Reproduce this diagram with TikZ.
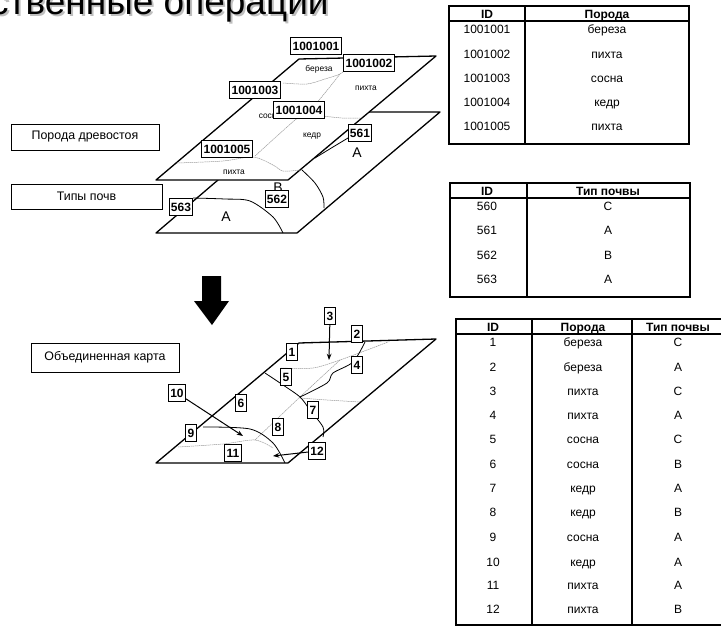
\documentclass[tikz,border=0pt]{standalone}
\usepackage{fontspec}
\setmainfont{Liberation Sans}
\usetikzlibrary{arrows.meta}
\tikzset{
  sheet/.style={draw,fill=white,line width=1.3pt,line join=round},
  soil/.style={line width=.8pt},
  stand/.style={gray!80,line width=.5pt,dash pattern=on 1.5pt off .6pt},
  tag/.style={draw,fill=white,line width=1pt,inner xsep=1.8pt,inner ysep=0pt,minimum height=16.5pt,text height=8.6pt,text depth=0pt,font=\fontsize{12}{12}\bfseries\selectfont},
  legend/.style={draw,fill=white,line width=.8pt,font=\fontsize{12.4}{13}\selectfont},
  small/.style={text height=4.4pt,text depth=0pt,font=\fontsize{8.4}{9}\selectfont},
  soilname/.style={font=\fontsize{14}{14}\selectfont},
  cell/.style={text height=8.6pt,text depth=0pt,font=\fontsize{12}{12}\selectfont},
  head/.style={text height=8.6pt,text depth=0pt,font=\fontsize{12}{12}\bfseries\selectfont},
  rule/.style={line width=1.4pt},
  pointer/.style={->,>={Stealth[length=2.2mm]},line width=1pt}
}
\begin{document}
\begin{tikzpicture}[x=1pt,y=-1pt]
\useasboundingbox (0,0) rectangle (721,627);
% title
\node[anchor=base west,gray!50,inner sep=0pt,font=\fontsize{37}{37}\selectfont] (titleshade) at (-8,16) {ственные операции};
\node[anchor=base west,inner sep=0pt,font=\fontsize{37}{37}\selectfont] (title) at (-10,14) {ственные операции};
% lower sheet
\draw[sheet] (218,180) -- (156,233) -- (297,233) -- (440,112) -- (300,112) -- cycle;
\draw[soil] plot[smooth] coordinates {(193,198) (225,199) (250,201) (273,217) (283,233)};
\draw[soil] plot[smooth] coordinates {(302,170) (315,183) (323,197) (324,208)};
\draw[soil] plot[smooth] coordinates {(315,158) (333,147) (348,138)};
\node[soilname] (soilB) at (278,188) {B};
\node[soilname] (soilA) at (357,153) {A};
\node[soilname] (soilC) at (226,217) {A};
% upper sheet
\draw[sheet] (299,59) -- (436,56) -- (288,180) -- (156,180) -- cycle;
\draw[stand] plot[smooth] coordinates {(283,83) (307,84) (325,79) (340,74) (347,68)};
\draw[stand] plot[smooth] coordinates {(340,74) (313,107) (295,120) (255,156)};
\draw[stand] plot[smooth] coordinates {(323,116) (342,118) (360,118)};
\draw[stand] plot[smooth] coordinates {(177,163) (223,161) (253,157) (273,165) (283,171) (300,170)};
\node[small] (birch) at (319,69) {береза};
\node[small] (fir) at (366,88) {пихта};
\node[small] (pine) at (270,116) {сосна};
\node[small] (cedar) at (312,135) {кедр};
\node[small] (firb) at (234,172) {пихта};
% tags of both sheets
\foreach \xx/\yy/\t in {316/46/1001001,369/63/1001002,255/90/1001003,299/110/1001004,227/149/1001005,360/133/561,277/199/562,181/207/563}
  \node[tag] (p\t) at (\xx,\yy) {\t};
% legends
\node[legend,minimum width=148pt,minimum height=26pt] (lgstand) at (85,137) {Порода древостоя};
\node[legend,minimum width=151pt,minimum height=25pt] (lgsoil) at (86.5,196.5) {Типы почв};
\node[legend,minimum width=148pt,minimum height=29pt] (lgjoin) at (105,357.5) {Объединенная карта};
% big arrow
\fill (202,276) -- (221,276) -- (221,301) -- (229,301) -- (212,325) -- (194,301) -- (202,301) -- cycle;
% joined sheet
\draw[sheet] (299,343) -- (436,339) -- (288,463) -- (156,463) -- cycle;
\draw[stand] plot[smooth] coordinates {(281,368) (313,368) (340,360) (367,350) (388,342)};
\draw[stand] plot[smooth] coordinates {(340,360) (300,397) (255,440)};
\draw[stand] plot[smooth] coordinates {(300,398) (327,400) (360,402)};
\draw[stand] plot[smooth] coordinates {(178,447) (223,444) (255,440) (273,448)};
\draw[soil] plot[smooth] coordinates {(203,427) (250,429) (273,443) (285,463)};
\draw[soil] plot[smooth] coordinates {(265,373) (283,385) (300,397) (310,410) (323,427) (323,437)};
\draw[soil] plot[smooth] coordinates {(365,342) (353,362) (333,373) (327,383) (300,397)};
\foreach \xx/\yy/\t in {292/352/1,357/334/2,330/316/3,357/365/4,286/377/5,241/403/6,313/410/7,278/427/8,191/433/9,177/393/10,233/453/11,317/451/12}
  \node[tag] (n\t) at (\xx,\yy) {\t};
\coordinate (pt3) at (329,360);
\coordinate (pt10) at (243,436);
\coordinate (pt12) at (273,456);
\draw[pointer] (n3) -- (pt3);
\draw[pointer] (n10) -- (pt10);
\draw[pointer] (n12) -- (pt12);
% table of stands
\draw[rule] (449,6) rectangle (689,144) (525,6) -- (525,144) (449,21) -- (689,21);
\node[head] (ah1) at (487,14) {ID};
\node[head] (ah2) at (607,14) {Порода};
\foreach \yy/\a/\b in {29/1001001/береза,54/1001002/пихта,78/1001003/сосна,102/1001004/кедр,126/1001005/пихта}{
  \node[cell] (a\a) at (487,\yy) {\a};
  \node[cell] (ab\a) at (607,\yy) {\b};
}
% table of soils
\draw[rule] (450,183) rectangle (690,297) (527,183) -- (527,297) (450,198) -- (690,198);
\node[head] (bh1) at (487,191) {ID};
\node[head] (bh2) at (608,191) {Тип почвы};
\foreach \yy/\a/\b in {206/560/C,230/561/A,255/562/B,279/563/A}{
  \node[cell] (b\a) at (487,\yy) {\a};
  \node[cell] (bb\a) at (608,\yy) {\b};
}
% joined table
\draw[rule] (721,319) -- (456,319) -- (456,625) -- (721,625) (532,319) -- (532,625) (632,319) -- (632,625) (456,334) -- (721,334);
\node[head] (ch1) at (493,327) {ID};
\node[head] (ch2) at (583,327) {Порода};
\node[head] (ch3) at (678,327) {Тип почвы};
\foreach \yy/\a/\b/\c in {342/1/береза/C,367/2/береза/A,391/3/пихта/C,415/4/пихта/A,439/5/сосна/C,464/6/сосна/B,488/7/кедр/A,512/8/кедр/B,537/9/сосна/A,562/10/кедр/A,585/11/пихта/A,609/12/пихта/B}{
  \node[cell] (c\a) at (493,\yy) {\a};
  \node[cell] (cb\a) at (583,\yy) {\b};
  \node[cell] (cc\a) at (678,\yy) {\c};
}
\end{tikzpicture}
\end{document}
